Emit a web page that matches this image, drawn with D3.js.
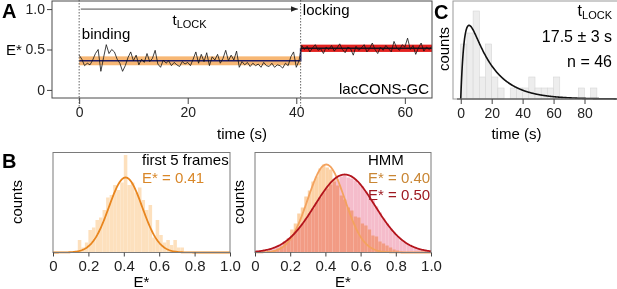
<!DOCTYPE html>
<html>
<head>
<meta charset="utf-8">
<script src="https://cdn.jsdelivr.net/npm/d3@7"></script>
<style>
  body { margin: 0; background: #fff; }
  svg { display: block; font-family: 'Liberation Sans', Arial, sans-serif; }
</style>
</head>
<body>
<svg id="fig" width="617" height="289"></svg>
<script>
// ---- panel A : single-molecule trace, one frame every 0.5 s ----
const frameTime = 0.5;
const bindingTrace = [
  0.43, 0.38, 0.30, 0.33, 0.31, 0.37, 0.45, 0.50, 0.23, 0.40,
  0.56, 0.45, 0.50, 0.47, 0.38, 0.33, 0.23, 0.30, 0.40, 0.47,
  0.36, 0.43, 0.31, 0.38, 0.34, 0.45, 0.35, 0.39, 0.49, 0.32,
  0.28, 0.37, 0.33, 0.36, 0.30, 0.34, 0.31, 0.29, 0.35, 0.32,
  0.34, 0.30, 0.38, 0.47, 0.33, 0.44, 0.35, 0.46, 0.30, 0.41,
  0.37, 0.44, 0.33, 0.39, 0.49, 0.36, 0.43, 0.37, 0.48, 0.28,
  0.35, 0.31, 0.34, 0.29, 0.33, 0.30, 0.32, 0.28, 0.34, 0.30,
  0.29, 0.33, 0.28, 0.31, 0.30, 0.27, 0.33, 0.30, 0.41, 0.47,
  0.28, 0.36];
const lockingStart = 41;
const lockingTrace = [
  0.55, 0.50, 0.54, 0.47, 0.52, 0.56, 0.49, 0.51, 0.45, 0.53,
  0.50, 0.55, 0.48, 0.52, 0.57, 0.50, 0.46, 0.53, 0.51, 0.43,
  0.54, 0.49, 0.52, 0.56, 0.47, 0.51, 0.58, 0.50, 0.45, 0.53,
  0.49, 0.55, 0.51, 0.47, 0.60, 0.52, 0.49, 0.56, 0.53, 0.64,
  0.50, 0.55, 0.44, 0.52, 0.58, 0.48, 0.53, 0.50, 0.54];
const switchTime = 40.8;
const traceEnd = 65;
const hmmLevels = [0.36, 0.515];
const hmmSpread = [0.055, 0.045];
const traceTimeTicks = [0, 20, 40, 60];
const traceETicks = [0, 0.5, 1.0];

// ---- panel B : E* histograms (bins of 0.02) ----
const eBinWidth = 0.02;
const eTicks = [0, 0.2, 0.4, 0.6, 0.8, 1.0];
const firstFramesStart = 0.14;
const firstFramesCounts = [5, 2, 4, 9, 10, 13, 14, 17, 22, 23, 27, 25, 28, 39, 27,
  28, 24, 26, 21, 17, 19, 6, 13, 7, 4, 5, 3, 5, 2, 2];
const firstFramesFit = { mean: 0.41, sd: 0.094, peak: 30 };

const bindingHistStart = 0.08;
const bindingCounts = [1, 2, 4, 6, 11, 14, 23, 29, 39, 45, 56, 62, 71, 76, 84, 88, 85,
  83, 73, 67, 57, 53, 45, 42, 36, 35, 29, 27, 23, 17, 16, 11, 9, 7, 5, 3, 2, 1];
const lockingHistStart = 0.08;
const lockingCounts = [4, 5, 7, 8, 11, 14, 17, 21, 25, 29, 34, 39, 44, 50, 55, 60, 64,
  68, 71, 74, 76, 77, 75, 74, 72, 69, 66, 61, 57, 53, 46, 40, 34, 29, 24, 20, 16, 12,
  10, 8, 6, 5, 3, 2, 1];
const bindingFit = { mean: 0.405, sd: 0.105, peak: 88 };
const lockingFit = { mean: 0.51, sd: 0.17, peak: 78 };

// ---- panel C : lock time histogram (bins of 4 s) ----
const lockBinWidth = 4;
const lockCounts = [5, 6, 8, 2, 5, 2, 1, 0, 1, 1, 1, 2, 1, 1, 1, 2, 0, 0, 0, 1, 0, 1];
const lockTicks = [0, 20, 40, 60, 80];
const lockFit = { amp: 11.5, tauSlow: 15, tauFast: 2.5 };

const svg = d3.select('#fig');
const defs = svg.append('defs');

function styleAxis(g, size) {
  g.select('.domain').remove();
  g.selectAll('.tick line').attr('stroke', '#444');
  g.selectAll('.tick text')
    .attr('fill', '#222')
    .style('font-size', `${size}px`)
    .style('font-family', "'Liberation Sans', Arial, sans-serif");
}

function gauss(fit) {
  return d => fit.peak * Math.exp(-0.5 * ((d - fit.mean) / fit.sd) ** 2);
}

// ================= A =================
const ax = d3.scaleLinear().domain([-5, 65]).range([52, 432]);
const ay = d3.scaleLinear().domain([-0.1, 1.1]).range([98, 1]);
const gA = svg.append('g');

defs.append('clipPath').attr('id', 'clipA')
  .append('rect')
  .attr('x', ax(-5)).attr('y', ay(1.1))
  .attr('width', ax(65) - ax(-5)).attr('height', ay(-0.1) - ay(1.1));

const plotA = gA.append('g').attr('clip-path', 'url(#clipA)');

plotA.append('rect')
  .attr('x', ax(0)).attr('width', ax(switchTime) - ax(0))
  .attr('y', ay(hmmLevels[0] + hmmSpread[0]))
  .attr('height', ay(hmmLevels[0] - hmmSpread[0]) - ay(hmmLevels[0] + hmmSpread[0]))
  .attr('fill', '#f7b774');
plotA.append('rect')
  .attr('x', ax(switchTime)).attr('width', ax(traceEnd) - ax(switchTime))
  .attr('y', ay(hmmLevels[1] + hmmSpread[1]))
  .attr('height', ay(hmmLevels[1] - hmmSpread[1]) - ay(hmmLevels[1] + hmmSpread[1]))
  .attr('fill', '#e3211f');

const tracePts = bindingTrace.map((v, i) => [i * frameTime, v])
  .concat(lockingTrace.map((v, i) => [lockingStart + i * frameTime, v]));
const line = d3.line().x(d => ax(d[0])).y(d => ay(d[1]));

plotA.append('path')
  .attr('d', line([[0, hmmLevels[0]], [switchTime, hmmLevels[0]],
    [switchTime, hmmLevels[1]]]))
  .attr('fill', 'none').attr('stroke', '#1d1d6a').attr('stroke-width', 1.6);
plotA.append('path')
  .attr('d', line([[switchTime, hmmLevels[1]], [traceEnd, hmmLevels[1]]]))
  .attr('fill', 'none').attr('stroke', '#1a1020').attr('stroke-width', 1.6);

plotA.append('path')
  .attr('d', line(tracePts))
  .attr('fill', 'none').attr('stroke', '#111').attr('stroke-width', 0.8);

[0, switchTime].forEach((t) => {
  gA.append('line')
    .attr('x1', ax(t)).attr('x2', ax(t))
    .attr('y1', 0).attr('y2', 107)
    .attr('stroke', '#555').attr('stroke-width', 0.9)
    .attr('stroke-dasharray', '1.5,1.5');
});

gA.append('rect')
  .attr('x', ax(-5)).attr('y', ay(1.1))
  .attr('width', ax(65) - ax(-5)).attr('height', ay(-0.1) - ay(1.1))
  .attr('fill', 'none').attr('stroke', '#4a4a4a');

defs.append('marker').attr('id', 'arrow')
  .attr('viewBox', '0 0 10 10').attr('refX', 10).attr('refY', 5)
  .attr('markerWidth', 7).attr('markerHeight', 7).attr('orient', 'auto')
  .attr('markerUnits', 'userSpaceOnUse')
  .append('path').attr('d', 'M0,1 L10,5 L0,9 z').attr('fill', '#222');

gA.append('line')
  .attr('x1', ax(0.3)).attr('x2', ax(40.3))
  .attr('y1', ay(1.0)).attr('y2', ay(1.0))
  .attr('stroke', '#222').attr('stroke-width', 0.8)
  .attr('marker-end', 'url(#arrow)');

gA.append('g')
  .attr('transform', `translate(0,${ay(-0.1)})`)
  .call(d3.axisBottom(ax).tickValues(traceTimeTicks).tickSize(6).tickPadding(3))
  .call(g => styleAxis(g, 14));
gA.append('g')
  .attr('transform', `translate(${ax(-5)},0)`)
  .call(d3.axisLeft(ay).tickValues(traceETicks).tickSize(5).tickPadding(2)
    .tickFormat(d => (d === 0 ? '0' : d3.format('.1f')(d))))
  .call(g => styleAxis(g, 14));

gA.append('text').attr('x', 2).attr('y', 18)
  .attr('font-size', 20).attr('font-weight', 'bold').text('A');
gA.append('text').attr('x', 6).attr('y', 55).attr('font-size', 15).text('E*');
gA.append('text').attr('x', ax(30)).attr('y', 139).attr('text-anchor', 'middle')
  .attr('font-size', 15).text('time (s)');
gA.append('text').attr('x', ax(0.5)).attr('y', 39).attr('font-size', 15).text('binding');
gA.append('text').attr('x', ax(41.2)).attr('y', 15).attr('font-size', 15).text('locking');
const tl = gA.append('text').attr('x', ax(17.2)).attr('y', 25).attr('font-size', 15);
tl.append('tspan').text('t');
tl.append('tspan').attr('dy', 3).attr('font-size', 11).text('LOCK');
gA.append('text').attr('x', 429).attr('y', 94).attr('text-anchor', 'end')
  .attr('font-size', 15).text('lacCONS-GC');

// ================= B =================
function histPanel(left, right, yMax) {
  const x = d3.scaleLinear().domain([0, 1]).range([left, right]);
  const y = d3.scaleLinear().domain([0, yMax]).range([252.5, 152.5]);
  const g = svg.append('g');
  return { x, y, g };
}

function drawBars(p, start, counts, fill, blend) {
  p.g.append('g')
    .style('mix-blend-mode', blend || 'normal')
    .selectAll('rect')
    .data(counts)
    .enter()
    .append('rect')
    .attr('x', (d, i) => p.x(start + i * eBinWidth))
    .attr('width', p.x(eBinWidth) - p.x(0))
    .attr('y', d => p.y(d))
    .attr('height', d => p.y(0) - p.y(d))
    .attr('fill', fill);
}

function drawFit(p, fit, color) {
  const f = gauss(fit);
  p.g.append('path')
    .datum(d3.range(0, 1.0001, 0.005))
    .attr('d', d3.line().x(d => p.x(d)).y(d => p.y(f(d))))
    .attr('fill', 'none').attr('stroke', color).attr('stroke-width', 1.8);
}

function finishHist(p, countsX) {
  const [x0, x1] = p.x.range();
  p.g.append('rect')
    .attr('x', x0).attr('y', 152.5).attr('width', x1 - x0).attr('height', 100)
    .attr('fill', 'none').attr('stroke', '#7a7a7a');
  p.g.append('g')
    .attr('transform', 'translate(0,252.5)')
    .call(d3.axisBottom(p.x).tickValues(eTicks).tickSize(4).tickPadding(4)
      .tickFormat(d => (d === 0 ? '0' : d3.format('.1f')(d))))
    .call(g => styleAxis(g, 15));
  p.g.append('text').attr('x', (x0 + x1) / 2).attr('y', 287)
    .attr('text-anchor', 'middle').attr('font-size', 15).text('E*');
  p.g.append('text')
    .attr('transform', `translate(${countsX},202) rotate(-90)`)
    .attr('text-anchor', 'middle').attr('font-size', 15).text('counts');
}

const bL = histPanel(53, 230, 40);
drawBars(bL, firstFramesStart, firstFramesCounts, '#fde0bd');
drawFit(bL, firstFramesFit, '#e8851e');
finishHist(bL, 22);
bL.g.append('text').attr('x', 2).attr('y', 168)
  .attr('font-size', 20).attr('font-weight', 'bold').text('B');
bL.g.append('text').attr('x', 142).attr('y', 165).attr('font-size', 15).text('first 5 frames');
bL.g.append('text').attr('x', 142).attr('y', 183).attr('font-size', 15)
  .attr('fill', '#d98728').text('E* = 0.41');

const bR = histPanel(255, 431, 100);
drawBars(bR, lockingHistStart, lockingCounts, '#f5bccb');
drawBars(bR, bindingHistStart, bindingCounts, '#fcd2a6', 'multiply');
drawFit(bR, bindingFit, '#f3a25e');
drawFit(bR, lockingFit, '#b3141c');
finishHist(bR, 244);
bR.g.append('text').attr('x', 368).attr('y', 165).attr('font-size', 15).text('HMM');
bR.g.append('text').attr('x', 368).attr('y', 183).attr('font-size', 15)
  .attr('fill', '#c98634').text('E* = 0.40');
bR.g.append('text').attr('x', 368).attr('y', 200).attr('font-size', 15)
  .attr('fill', '#9e1a22').text('E* = 0.50');

// ================= C =================
const cx = d3.scaleLinear().domain([-5, 101]).range([453, 617]);
const cy = d3.scaleLinear().domain([0, 9]).range([99, 0]);
const gC = svg.append('g');

gC.append('g').selectAll('rect')
  .data(lockCounts)
  .enter()
  .append('rect')
  .attr('x', (d, i) => cx(i * lockBinWidth))
  .attr('width', cx(lockBinWidth) - cx(0))
  .attr('y', d => cy(d))
  .attr('height', d => cy(0) - cy(d))
  .attr('fill', d => (d > 0 ? '#ededed' : 'none'))
  .attr('stroke', d => (d > 0 ? '#d6d6d6' : 'none'))
  .attr('stroke-width', 0.6);

const lockCurve = t => lockFit.amp * (Math.exp(-t / lockFit.tauSlow) - Math.exp(-t / lockFit.tauFast));
gC.append('path')
  .datum(d3.range(0, 101, 0.25))
  .attr('d', d3.line().x(d => cx(d)).y(d => cy(lockCurve(d))))
  .attr('fill', 'none').attr('stroke', '#111').attr('stroke-width', 1.6);

gC.append('rect')
  .attr('x', cx(-5)).attr('y', 1).attr('width', 200).attr('height', cy(0) - 1)
  .attr('fill', 'none').attr('stroke', '#9a9a9a');
gC.append('line')
  .attr('x1', cx(-5) + 4).attr('x2', 617).attr('y1', cy(0)).attr('y2', cy(0))
  .attr('stroke', '#444');

gC.append('g')
  .attr('transform', `translate(0,${cy(0)})`)
  .call(d3.axisBottom(cx).tickValues(lockTicks).tickSize(5).tickPadding(4))
  .call(g => styleAxis(g, 14));

gC.append('text').attr('x', 434).attr('y', 19)
  .attr('font-size', 20).attr('font-weight', 'bold').text('C');
gC.append('text')
  .attr('transform', 'translate(449,49) rotate(-90)')
  .attr('text-anchor', 'middle').attr('font-size', 15).text('counts');
gC.append('text').attr('x', cx(36)).attr('y', 139)
  .attr('text-anchor', 'middle').attr('font-size', 15).text('time (s)');
const tc = gC.append('text').attr('x', 612).attr('y', 16)
  .attr('text-anchor', 'end').attr('font-size', 16);
tc.append('tspan').text('t');
tc.append('tspan').attr('dy', 3).attr('font-size', 11).text('LOCK');
gC.append('text').attr('x', 612).attr('y', 42).attr('text-anchor', 'end')
  .attr('font-size', 16).text('17.5 ± 3 s');
gC.append('text').attr('x', 612).attr('y', 67).attr('text-anchor', 'end')
  .attr('font-size', 16).text('n = 46');
</script>
</body>
</html>
